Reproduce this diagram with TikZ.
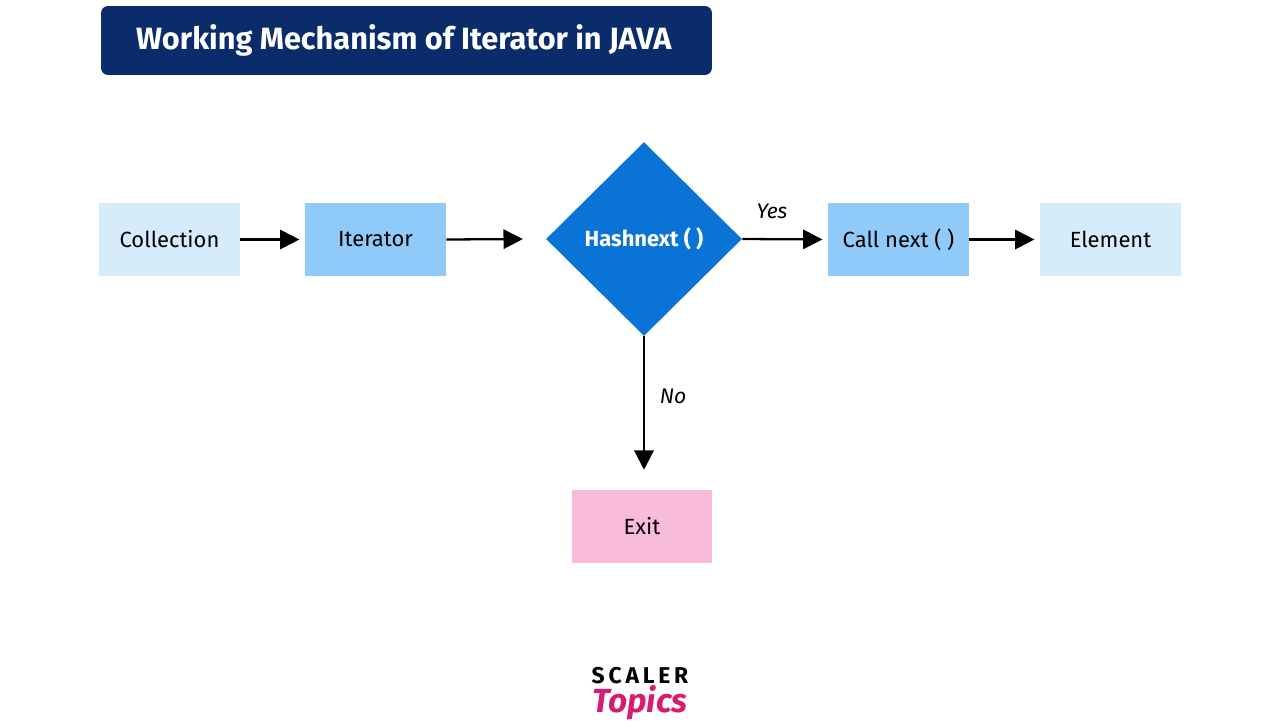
\documentclass[tikz,border=0pt]{standalone}
\usepackage{fontspec}
\setmainfont{Fira Sans}
\usetikzlibrary{shapes.geometric,arrows.meta}
\definecolor{navy}{HTML}{0B2C6B}
\definecolor{lightb}{HTML}{D7ECFB}
\definecolor{midb}{HTML}{90CAF9}
\definecolor{dia}{HTML}{0A74D6}
\definecolor{pinkb}{HTML}{F8BBD9}
\definecolor{logopink}{HTML}{D81B70}
\begin{document}
\begin{tikzpicture}[x=0.02cm,y=-0.02cm,
 box/.style={rectangle,minimum width=2.82cm,minimum height=1.46cm,inner sep=0pt,font=\fontsize{12.5}{14}\selectfont},
 arr/.style={-{Triangle[length=11pt,width=11pt]},line width=1.3pt,shorten >=3pt},
 lbl/.style={font=\fontsize{12}{14}\selectfont\itshape}]
\useasboundingbox (0,0) rectangle (1280,720);
\node[fill=navy,rounded corners=4pt,minimum width=12.22cm,minimum height=1.38cm,inner sep=0pt] (title) at (406.5,40.5) {};
\node[text=white,font=\fontsize{17.5}{20}\selectfont\bfseries,anchor=west] (tt) at (130,40.5) {Working Mechanism of Iterator in JAVA};
\node[box,fill=lightb] (col) at (169.5,239.5) {Collection};
\node[box,fill=midb] (it) at (375.5,239.5) {Iterator};
\node[diamond,fill=dia,minimum width=3.92cm,minimum height=3.88cm,inner sep=0pt,text=white,font=\fontsize{12.5}{14}\selectfont\bfseries] (hn) at (644,239) {Hashnext ( )};
\node[box,fill=midb] (cn) at (898.5,239.5) {Call next ( )};
\node[box,fill=lightb] (el) at (1110.5,239.5) {Element};
\node[box,fill=pinkb] (ex) at (642,526.5) {Exit};
\coordinate (ct) at (644,475);
\draw[arr] (col.east) -- (it.west);
\draw[arr] (it.east) -- ([xshift=-10]hn.west);
\draw[arr] (hn.east) -- (cn.west);
\draw[arr] (cn.east) -- (el.west);
\draw[arr] (hn.south) -- (ct);
\node[lbl] (yes) at (772,211) {Yes};
\node[lbl] (no) at (673,396) {No};
\node[font=\fontsize{13}{15}\selectfont\bfseries,text=black] (sc) at (640,676) {S\,C\,A\,L\,E\,R};
\node[font=\fontsize{19}{21}\selectfont\itshape\bfseries,text=logopink] (tp) at (640,703) {Topics};
\end{tikzpicture}
\end{document}
